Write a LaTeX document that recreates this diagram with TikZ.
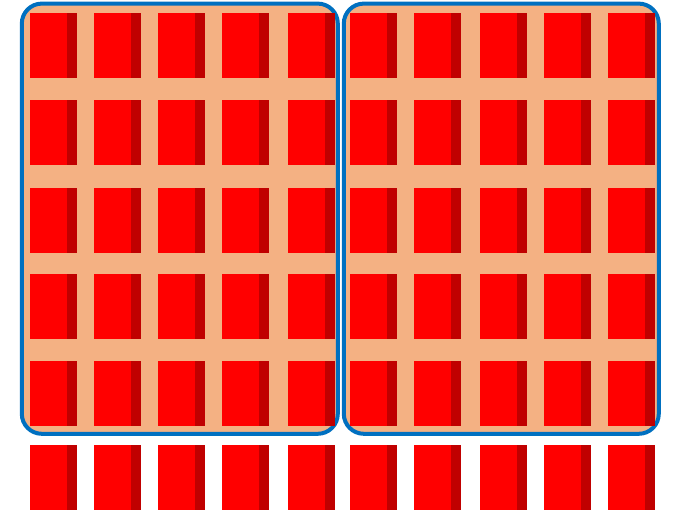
\documentclass[tikz,border=0pt]{standalone}
\definecolor{panelfill}{HTML}{F4B183}
\definecolor{panelline}{HTML}{0070C0}
\definecolor{boxred}{HTML}{FF0000}
\definecolor{boxdark}{HTML}{C00000}
\tikzset{
  panel/.style={fill=panelfill, draw=panelline, line width=4pt, rounded corners=20pt},
  boxface/.style={fill=boxred, draw=none},
  boxside/.style={fill=boxdark, draw=none}
}
\begin{document}
\begin{tikzpicture}[x=1pt,y=-1pt]
\useasboundingbox (0,0) rectangle (675,512);
\draw[panel] (21.8,3.6) rectangle (337.8,433.8);
\draw[panel] (343.8,3.6) rectangle (658.8,433.8);
\foreach \cx in {29.5,93.5,157.5,222,287.5,350,413.5,479.5,543.5,607.5}{
  \foreach \ry in {12.5,100,187.5,273.5,360.5,444.5}{
    \fill[boxface] (\cx,\ry) rectangle ++(37,65);
    \fill[boxside] (\cx+37,\ry) rectangle ++(10,65);
  }
}
\end{tikzpicture}
\end{document}
